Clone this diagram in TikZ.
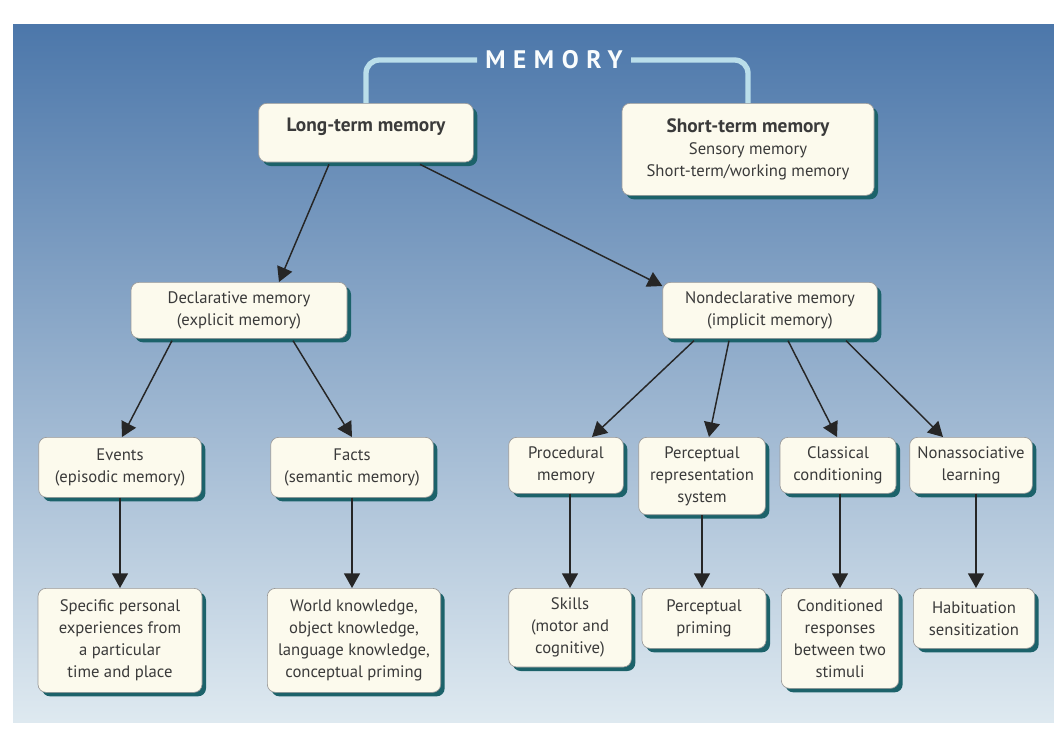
\documentclass[tikz,border=0pt]{standalone}
\usepackage{fontspec}
\setmainfont{PT Sans}
\usetikzlibrary{arrows.meta,shadows,calc}

\definecolor{fondhaut}{RGB}{76,119,170}
\definecolor{fondmilieu}{RGB}{146,172,202}
\definecolor{fondbas}{RGB}{222,233,240}
\definecolor{boite}{RGB}{252,250,237}
\definecolor{ombre}{RGB}{28,98,106}
\definecolor{accolade}{RGB}{186,222,234}
\definecolor{texte}{RGB}{58,58,58}

\newcommand{\boxtitle}{\fontsize{14.5}{17}\selectfont\bfseries}

\tikzset{
  mem/.style={draw=black!40, line width=0.5pt, fill=boite, rounded corners=6pt,
    align=center, text=texte, anchor=north, inner sep=2pt,
    font=\fontsize{12.5}{16.5}\selectfont,
    drop shadow={shadow xshift=3pt, shadow yshift=-3pt, fill=ombre, opacity=1}},
  fleche/.style={->, line width=1.1pt, draw=black!85},
  bracket/.style={draw=accolade, line width=4pt, rounded corners=10pt},
}

\begin{document}
\begin{tikzpicture}[x=0.75pt, y=-0.75pt, >={Triangle[length=11pt,width=12pt]}]
    \useasboundingbox (0,0) rectangle (1054,729);
    % Fond
    \shade[top color=fondhaut, middle color=fondmilieu, bottom color=fondbas]
        (13,24) rectangle (1054,722);

    % Titre
    \node[font=\fontsize{19}{20}\selectfont\bfseries\addfontfeature{LetterSpace=30},
          text=white!92!accolade, inner sep=6pt] (memory) at (554,60) {MEMORY};

    % Niveau 1
    \node[mem, minimum width=161pt, minimum height=44pt] (ltm) at (366,103)
        {{\boxtitle Long-term memory}\\[-4pt]};
    \node[mem, minimum width=189pt, minimum height=69pt] (stm) at (748,103)
        {{\boxtitle Short-term memory}\\Sensory memory\\Short-term/working memory};

    % Accolade
    \draw[bracket] (ltm.north) |- (memory.west);
    \draw[bracket] (stm.north) |- (memory.east);

    % Niveau 2
    \node[mem, minimum width=162pt, minimum height=42pt] (decl) at (239,282)
        {Declarative memory\\(explicit memory)};
    \node[mem, minimum width=161pt, minimum height=42pt] (nondecl) at (770,282)
        {Nondeclarative memory\\(implicit memory)};

    \draw[fleche] ($(ltm.south)+(-37,2)$) -- ($(decl.north)+(40,0)$);
    \draw[fleche] ($(ltm.south)+(54,2)$) -- ($(nondecl.north west)+(0,4)$);

    % Niveau 3
    \node[mem, minimum width=122pt, minimum height=45pt] (events) at (120,437)
        {Events\\(episodic memory)};
    \node[mem, minimum width=122pt, minimum height=45pt] (facts) at (352,437)
        {Facts\\(semantic memory)};
    \node[mem, minimum width=86pt, minimum height=42pt] (proced) at (566,437)
        {Procedural\\memory};
    \node[mem, minimum width=95pt, minimum height=58pt] (percep) at (702,437)
        {Perceptual\\representation\\system};
    \node[mem, minimum width=87pt, minimum height=42pt] (classic) at (838,437)
        {Classical\\conditioning};
    \node[mem, minimum width=92pt, minimum height=42pt] (nonassoc) at (971,437)
        {Nonassociative\\learning};

    \draw[fleche] ($(decl.south)+(-67,2)$) -- ($(events.north)+(2,0)$);
    \draw[fleche] ($(decl.south)+(54,2)$) -- (facts.north);
    \draw[fleche] ($(nondecl.south)+(-76,2)$) -- ($(proced.north)+(26,0)$);
    \draw[fleche] ($(nondecl.south)+(-41,2)$) -- ($(percep.north)+(7,0)$);
    \draw[fleche] ($(nondecl.south)+(18,2)$) -- ($(classic.north)+(-1,0)$);
    \draw[fleche] ($(nondecl.south)+(76,2)$) -- ($(nonassoc.north)+(-28,0)$);

    % Niveau 4
    \node[mem, minimum width=123pt, minimum height=78pt] (specific) at (120,588)
        {Specific personal\\experiences from\\a particular\\time and place};
    \node[mem, minimum width=130pt, minimum height=78pt] (world) at (354,588)
        {World knowledge,\\object knowledge,\\language knowledge,\\conceptual priming};
    \node[mem, minimum width=92pt, minimum height=59pt] (skills) at (570,588)
        {Skills\\(motor and\\cognitive)};
    \node[mem, minimum width=93pt, minimum height=45pt] (pprim) at (704,588)
        {Perceptual\\priming};
    \node[mem, minimum width=88pt, minimum height=75pt] (cond) at (840,588)
        {Conditioned\\responses\\between two\\stimuli};
    \node[mem, minimum width=91pt, minimum height=45pt] (habit) at (974,588)
        {Habituation\\sensitization};

    \draw[fleche] (events.south) -- (events.south |- specific.north);
    \draw[fleche] (facts.south) -- (facts.south |- world.north);
    \draw[fleche] ($(proced.south)+(4,0)$) -- ($(proced.south |- skills.north)+(4,0)$);
    \draw[fleche] (percep.south) -- (percep.south |- pprim.north);
    \draw[fleche] ($(classic.south)+(2,0)$) -- ($(classic.south |- cond.north)+(2,0)$);
    \draw[fleche] ($(nonassoc.south)+(5,0)$) -- ($(nonassoc.south |- habit.north)+(5,0)$);
\end{tikzpicture}
\end{document}
